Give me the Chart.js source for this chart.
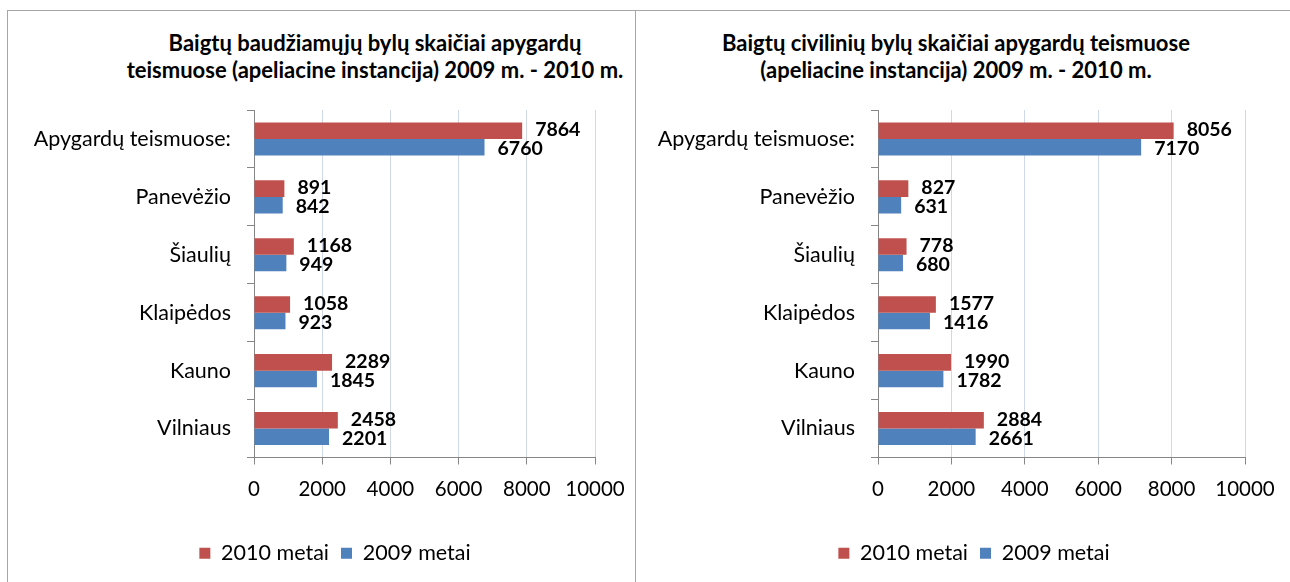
<!DOCTYPE html>
<html>
<head>
<meta charset="utf-8">
<script src="https://cdn.jsdelivr.net/npm/chart.js@4.4.0/dist/chart.umd.min.js"></script>
<style>
  html, body { margin: 0; padding: 0; background: #fff; }
  body { width: 1290px; height: 582px; position: relative; overflow: hidden; font-family: Lato, sans-serif; }
  .frame { position: absolute; border: 1px solid #a6a6a6; box-sizing: border-box; }
  .title { position: absolute; font-weight: bold; font-size: 22px; line-height: 27px; color: #000; text-align: center; white-space: nowrap; }
  canvas { position: absolute; }
</style>
</head>
<body>
<div class="frame" style="left:7px; top:10px; width:629px; height:620px;"></div>
<div class="frame" style="left:635px; top:10px; width:700px; height:620px;"></div>

<div class="title" style="left:75px; width:600px; top:29px;">Baigtų baudžiamųjų bylų skaičiai apygardų<br>teismuose (apeliacine instancija) 2009 m. - 2010 m.</div>
<div class="title" style="left:656px; width:600px; top:29px;">Baigtų civilinių bylų skaičiai apygardų teismuose<br>(apeliacine instancija) 2009 m. - 2010 m.</div>

<canvas id="criminalChart" width="640" height="571" style="left:8px; top:11px;"></canvas>
<canvas id="civilChart" width="670" height="571" style="left:637px; top:11px;"></canvas>

<script>
const categories = ['Apygardų teismuose:', 'Panevėžio', 'Šiaulių', 'Klaipėdos', 'Kauno', 'Vilniaus'];
const seriesNames = ['2010 metai', '2009 metai'];
const criminal2010 = [7864, 891, 1168, 1058, 2289, 2458];
const criminal2009 = [6760, 842, 949, 923, 1845, 2201];
const civil2010 = [8056, 827, 778, 1577, 1990, 2884];
const civil2009 = [7170, 631, 680, 1416, 1782, 2661];
const xTicks = [0, 2000, 4000, 6000, 8000, 10000];

const RED = '#c0504d';
const BLUE = '#4f81bd';
const AXIS = '#868686';
const GRID = '#d0d7e6';
const FONT = 'Lato';

// writes each bar's value just past its end
const barValueLabels = {
    id: 'barValueLabels',
    afterDatasetsDraw(chart) {
        const ctx = chart.ctx;
        ctx.save();
        ctx.font = 'bold 19.5px ' + FONT;
        ctx.fillStyle = '#000';
        ctx.textAlign = 'left';
        ctx.textBaseline = 'middle';
        chart.data.datasets.forEach((ds, i) => {
            chart.getDatasetMeta(i).data.forEach((bar, j) => {
                ctx.fillText(String(ds.data[j]), bar.x + 13, bar.y + (i === 0 ? -1 : 2));
            });
        });
        ctx.restore();
    }
};

function drawCourtChart(canvasId, values2010, values2009, box) {
    const ctx = document.getElementById(canvasId).getContext('2d');
    new Chart(ctx, {
        type: 'bar',
        data: {
            labels: categories,
            datasets: [
                { label: seriesNames[0], data: values2010, backgroundColor: RED },
                { label: seriesNames[1], data: values2009, backgroundColor: BLUE }
            ]
        },
        options: {
            indexAxis: 'y',
            responsive: false,
            animation: false,
            events: [],
            datasets: { bar: { categoryPercentage: 0.57, barPercentage: 1.0 } },
            layout: { padding: box.padding },
            scales: {
                x: {
                    min: xTicks[0],
                    max: xTicks[xTicks.length - 1],
                    ticks: {
                        stepSize: xTicks[1] - xTicks[0],
                        callback: v => String(v),
                        maxRotation: 0,
                        minRotation: 0,
                        autoSkip: false,
                        padding: 13,
                        color: '#000',
                        font: { family: FONT, size: 20.5 }
                    },
                    grid: { color: GRID, tickColor: AXIS, tickLength: 7 },
                    border: { color: AXIS },
                    afterFit(scale) { scale.height = 73; }
                },
                y: {
                    ticks: { padding: 16, color: '#000', font: { family: FONT, size: 21.5 } },
                    grid: { offset: true, drawOnChartArea: false, tickColor: AXIS, tickLength: 7 },
                    border: { color: AXIS },
                    afterFit(scale) {
                        scale.width = box.axisWidth;
                        // long category names may run left of the axis box
                        scale._computeLabelArea = () => undefined;
                    }
                }
            },
            plugins: {
                legend: {
                    position: 'bottom',
                    labels: { boxWidth: 11, boxHeight: 11, padding: 12, color: '#000', font: { family: FONT, size: 21.5 } }
                },
                tooltip: { enabled: false }
            }
        },
        plugins: [barValueLabels]
    });
}

drawCourtChart('criminalChart', criminal2010, criminal2009,
    { padding: { left: 67, right: 53, top: 99, bottom: 8 }, axisWidth: 179 });
drawCourtChart('civilChart', civil2010, civil2009,
    { padding: { left: 66, right: 62, top: 99, bottom: 8 }, axisWidth: 175 });
</script>
</body>
</html>
